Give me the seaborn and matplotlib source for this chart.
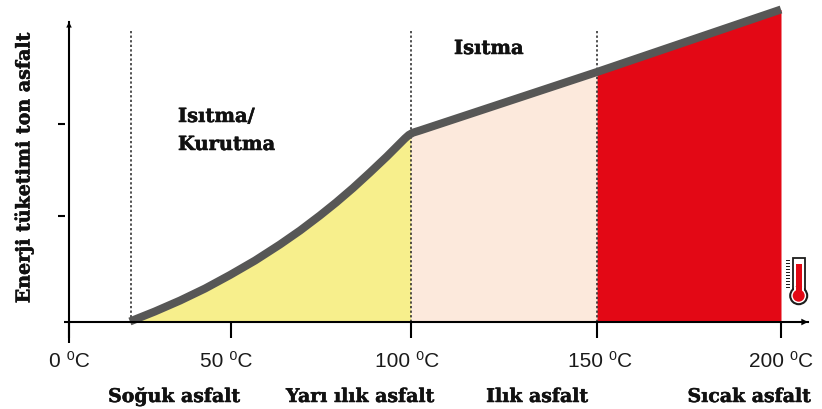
import numpy as np
import pandas as pd
import seaborn as sns
import matplotlib
matplotlib.use("Agg")
import matplotlib.pyplot as plt
import matplotlib.patheffects as pe
from matplotlib.patches import Rectangle, Ellipse
from matplotlib.ticker import NullLocator
from matplotlib.transforms import ScaledTranslation

# ---- data ----
temp_ticks = [0, 50, 100, 150, 200]
temp_labels = ["0 \u2070C", "50 \u2070C", "100 \u2070C", "150 \u2070C", "200 \u2070C"]
scale_px = [0, 162, 342, 528, 712]          # uneven spacing of the temperature axis
energy_ticks = [0, 106, 198]
curve_temp = [18.8, 26.5, 34.3, 42, 49.7, 56.7, 63.6, 69.2, 74.7, 79.2, 83.9, 88.6,
              93.3, 95.8, 98.3, 99.4, 100.5, 102.4, 150, 200]
curve_energy = [0.5, 10.5, 21.5, 33.5, 47, 61.5, 77.5, 91.5, 106.5, 119.5, 134, 149.5,
                165.5, 174.5, 183.5, 187, 189.3, 191.5, 250, 312.5]
zone_edges = [18.8, 100, 150, 200]
zone_colors = ["#F7EF8C", "#FCE9DC", "#E30815"]
zone_names = ["Soğuk asfalt", "Yarı ılık asfalt", "Ilık asfalt", "Sıcak asfalt"]
zone_name_px = [174, 360, 537, 749]
dotted_temps = [19.1, 100, 150]
label_shift_px = [0.5, -4.5, -4, 3, 0]

W, H = 822, 409
sns.set_theme(style="white")
plt.rcParams["font.family"] = ["Liberation Sans", "DejaVu Sans"]
SERIF = "DejaVu Serif"
fig = plt.figure(figsize=(W / 100, H / 100), dpi=100)
ax = fig.add_axes([69 / W, 1 - 322 / H, (808 - 69) / W, 300 / H])


def fwd(x):
    x = np.asarray(x, float)
    return np.interp(x, temp_ticks, scale_px) + np.where(x > 200, (x - 200) * 3.68, 0)


def inv(p):
    p = np.asarray(p, float)
    return np.interp(p, scale_px, temp_ticks) + np.where(p > 712, (p - 712) / 3.68, 0)


ax.set_xscale("function", functions=(fwd, inv))
ax.set_xlim(0, 200 + 27 / 3.68)
ax.set_ylim(0, 300)
ax.patch.set_alpha(0)

df = pd.DataFrame({"t": curve_temp, "e": curve_energy})
for i, c in enumerate(zone_colors):
    a, b = zone_edges[i], zone_edges[i + 1]
    ts = sorted(set([a, b] + [t for t in curve_temp if a <= t <= b]))
    es = np.interp(ts, curve_temp, curve_energy)
    ax.fill_between(ts, 0, es, color=c, lw=0, zorder=1, clip_on=False)

sns.lineplot(data=df, x="t", y="e", ax=ax, color="#575756", lw=5.8, zorder=4,
             solid_capstyle="butt", solid_joinstyle="round", clip_on=False, errorbar=None)

for t in dotted_temps:
    ax.plot([t, t], [0, 291], color="#222222", lw=1.1, ls=(0, (1.5, 1.5)), zorder=2)

for s in ["top", "right"]:
    ax.spines[s].set_visible(False)
for s in ["left", "bottom"]:
    ax.spines[s].set_color("black")
    ax.spines[s].set_linewidth(1.5)
    ax.spines[s].set_zorder(5)

ax.set_xlabel("")
ax.set_ylabel("")
ax.set_xticks(temp_ticks, temp_labels, fontsize=15, color="#1a1a1a")
ax.xaxis.set_minor_locator(NullLocator())
ax.tick_params(axis="x", direction="out", length=11.5, width=1.5, pad=10, color="black", bottom=True)
ax.set_yticks([])
for lab, dx in zip(ax.get_xticklabels(), label_shift_px):
    lab.set_transform(lab.get_transform() + ScaledTranslation(dx / 100, 0, fig.dpi_scale_trans))

# y ticks, detached from the axis line
ytr = ax.get_yaxis_transform()
axw = 808 - 69
for v in energy_ticks:
    gap = 0 if v == 0 else 4
    size = 5 if v == 0 else 7
    x1 = -gap / axw
    ax.plot([x1 - size / axw, x1], [v, v], transform=ytr, color="black", lw=1.5,
            clip_on=False, solid_capstyle="butt", zorder=5)
# longer stem under the origin
ax.plot([0, 0], [-20.5, 0], color="black", lw=1.5, clip_on=False, zorder=5, solid_capstyle="butt")

# arrows
head_x = dict(arrowstyle="-|>", color="black", lw=0, mutation_scale=12, shrinkA=0, shrinkB=0)
head_y = dict(arrowstyle="-|>", color="black", lw=0, mutation_scale=10, shrinkA=0, shrinkB=0)
ax.annotate("", xy=(1, 0), xytext=(0.97, 0), xycoords=ax.transAxes, arrowprops=head_x, zorder=6)
ax.annotate("", xy=(0, 1), xytext=(0, 0.96), xycoords=ax.transAxes, arrowprops=head_y, zorder=6)


def ftext(x, y, s, **k):
    t = fig.text(x / W, 1 - y / H, s, family=SERIF, fontweight="bold", color="#111111",
                 va="center", **k)
    t.set_path_effects([pe.withStroke(linewidth=0.35, foreground="#111111")])


ftext(178, 117, "Isıtma/", fontsize=14, ha="left")
ftext(178, 145, "Kurutma", fontsize=14, ha="left")
ftext(489, 49, "Isıtma", fontsize=14, ha="center")
ftext(24, 168, "Enerji tüketimi ton asfalt", fontsize=13.7, rotation=90, ha="center")
for name, x in zip(zone_names, zone_name_px):
    ftext(x, 397, name, fontsize=13.6, ha="center")

# thermometer icon, in figure pixels
tr = fig.transFigure
sx, sy = 1 / W, 1 / H


def P(x, y):
    return (x / W, 1 - y / H)


ink = "#1d1d1b"
fig.add_artist(Rectangle(P(793, 292), 12 * sx, 34 * sy, transform=tr, fc="white", ec=ink, lw=1.3, zorder=3))
fig.add_artist(Ellipse(P(798.7, 295.7), 17 * sx, 17 * sy, transform=tr, fc="white", ec=ink, lw=1.5, zorder=3))
fig.add_artist(Rectangle(P(794, 293), 9.5 * sx, 6 * sy, transform=tr, fc="white", ec="none", zorder=4))
fig.add_artist(Ellipse(P(798.7, 295.7), 12 * sx, 12 * sy, transform=tr, fc="#E30815", ec="none", zorder=5))
fig.add_artist(Rectangle(P(796, 296), 6 * sx, 32 * sy, transform=tr, fc="#E30815", ec="none", zorder=5))
for y in range(260, 288, 3):
    fig.add_artist(Rectangle(P(786, y + 1), 4 * sx, 1 * sy, transform=tr, fc=ink, ec="none"))

fig.savefig("out.png", dpi=100)
